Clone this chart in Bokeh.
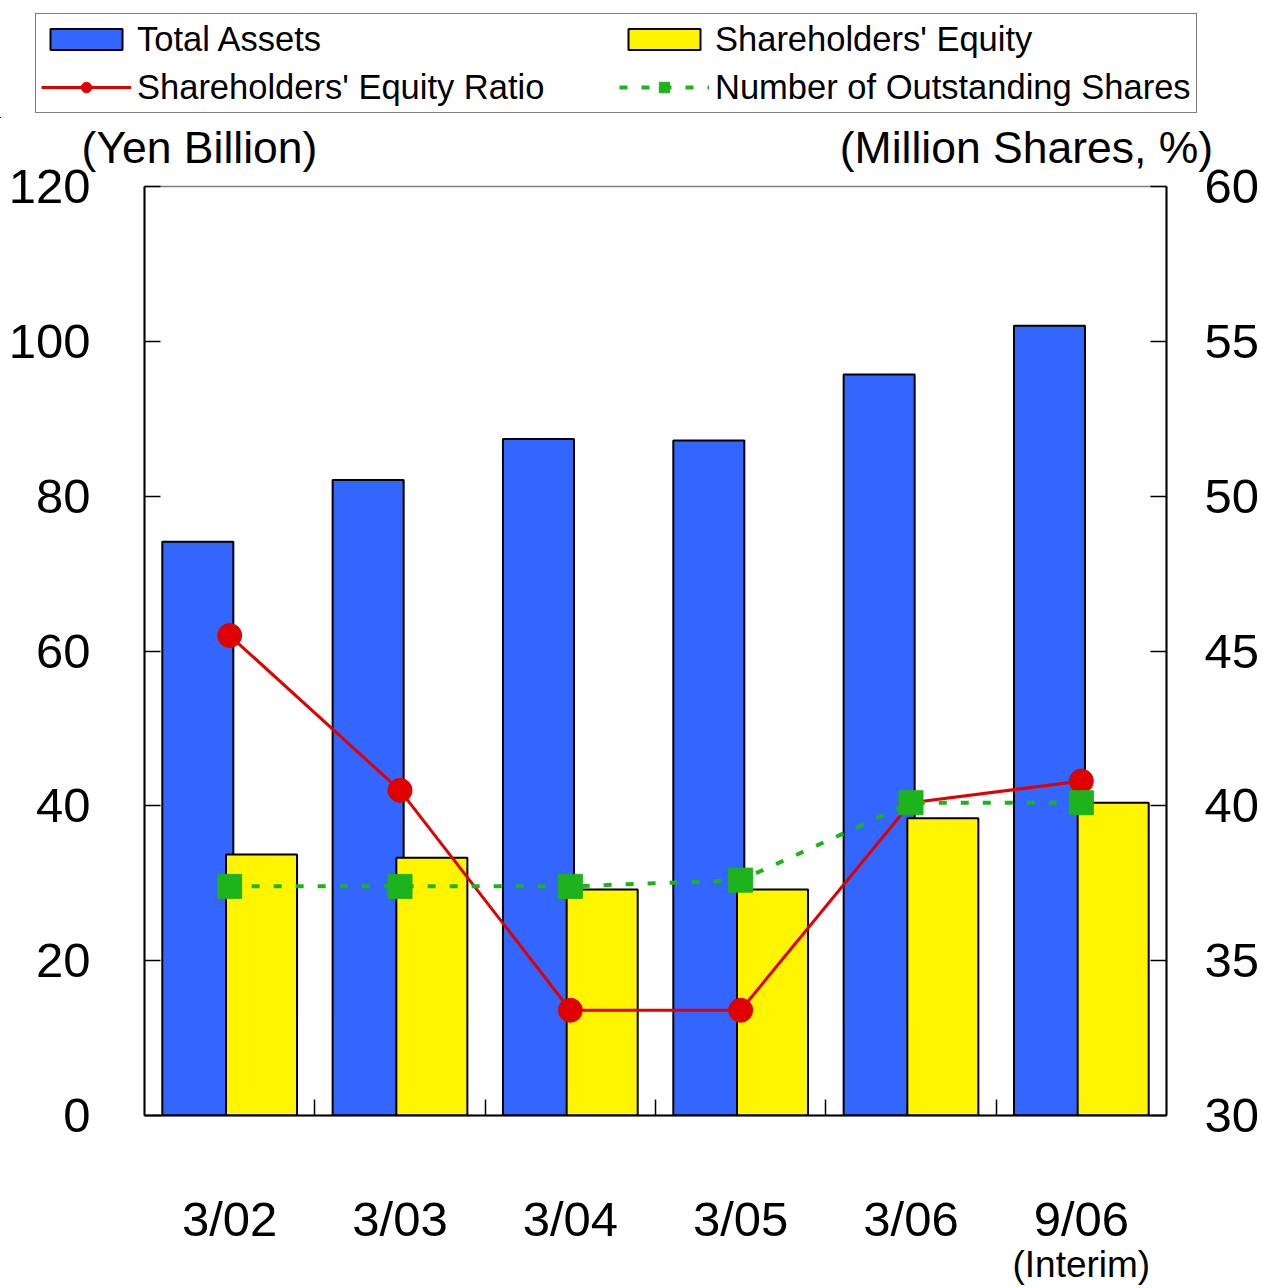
from bokeh.plotting import figure
from bokeh.layouts import column
from bokeh.models import (Range1d, LinearAxis, FixedTicker, Legend, LegendItem,
                          ColumnDataSource)
from bokeh.transform import dodge
from bokeh.embed import file_html
from bokeh.resources import INLINE

# ---- data ----
categories = ["3/02", "3/03", "3/04", "3/05", "3/06", "9/06"]
sub_labels = ["", "", "", "", "", "(Interim)"]
total_assets = [74.1, 82.1, 87.4, 87.2, 95.7, 102.0]
shareholders_equity = [33.7, 33.3, 29.2, 29.2, 38.4, 40.4]
equity_ratio = [45.5, 40.5, 33.4, 33.4, 40.1, 40.8]
outstanding_shares = [37.4, 37.4, 37.4, 37.6, 40.1, 40.1]
left_ticks = [0, 20, 40, 60, 80, 100, 120]
right_ticks = [30, 35, 40, 45, 50, 55, 60]
unit_titles = ["(Yen Billion)", "(Million Shares, %)"]
series_names = ["Total Assets", "Shareholders' Equity",
                "Shareholders' Equity Ratio", "Number of Outstanding Shares"]

FONT = "Liberation Sans"
BLUE = "#3366FF"
YELLOW = "#FFF500"
RED = "#E00000"
GREEN = "#1DB31D"

W = 1262
LEG_H = 118

xpos = [i + 0.5 for i in range(len(categories))]
bounds = [float(i) for i in range(1, len(categories))]
title_pos = [0.323, 5.178]

src = ColumnDataSource(dict(x=xpos, ta=total_assets, se=shareholders_equity,
                            er=equity_ratio, sh=outstanding_shares))

p = figure(width=W, height=1288 - LEG_H, x_range=Range1d(0, len(categories)), y_range=Range1d(0, 120),
           x_axis_location=None, y_axis_location=None,
           output_backend="svg", toolbar_location=None,
           min_border_left=144, min_border_right=W - 1166, min_border_top=186 - LEG_H,
           min_border_bottom=173)
p.frame_align = False
p.extra_y_ranges = {"r": Range1d(30, 60)}
p.xgrid.visible = False
p.ygrid.visible = False
p.outline_line_color = "#808080"
p.outline_line_width = 1.5
p.background_fill_color = "white"
p.border_fill_color = "white"

# y axes
yl = LinearAxis(ticker=FixedTicker(ticks=left_ticks))
yr = LinearAxis(y_range_name="r", ticker=FixedTicker(ticks=right_ticks))
for ax, st in ((yl, 54), (yr, 38)):
    ax.major_tick_in = 16
    ax.major_tick_out = 0
    ax.minor_tick_line_color = None
    ax.axis_line_width = 2
    ax.axis_line_color = "black"
    ax.major_tick_line_width = 1.5
    ax.major_tick_line_color = "black"
    ax.major_label_text_font = FONT
    ax.major_label_text_font_size = "49px"
    ax.major_label_text_color = "black"
    ax.major_label_standoff = st
p.add_layout(yl, "left")
p.add_layout(yr, "right")

# x axes (boundary ticks, category labels, sub labels)
xb = LinearAxis(ticker=FixedTicker(ticks=bounds))
xb.major_tick_in = 16
xb.major_tick_out = 0
xb.minor_tick_line_color = None
xb.axis_line_width = 2
xb.axis_line_color = "black"
xb.major_tick_line_width = 1.5
xb.major_label_text_font_size = "1px"
xb.major_label_text_color = None
xb.major_label_standoff = 0
p.add_layout(xb, "below")


def label_axis(ticks, labels, size, standoff):
    ax = LinearAxis(ticker=FixedTicker(ticks=ticks),
                    major_label_overrides={t: s for t, s in zip(ticks, labels)})
    ax.major_tick_in = 0
    ax.major_tick_out = 0
    ax.minor_tick_line_color = None
    ax.axis_line_color = None
    ax.major_tick_line_color = None
    ax.major_label_text_font = FONT
    ax.major_label_text_font_size = size
    ax.major_label_text_color = "black"
    ax.major_label_standoff = standoff
    return ax


p.add_layout(label_axis(xpos, categories, "49px", 76), "below")
p.add_layout(label_axis([xpos[-1]], [sub_labels[-1]], "37px", -5), "below")

# unit titles on top
p.add_layout(label_axis(title_pos, unit_titles, "44.5px", 15), "above")

# styles shared by chart and legend
bar_ta = dict(fill_color=BLUE, line_color="black", line_width=2)
bar_se = dict(fill_color=YELLOW, line_color="black", line_width=2)
line_er = dict(line_color=RED, line_width=3)
mark_er = dict(marker="circle", size=24, fill_color=RED, line_color=RED)
line_sh = dict(line_color=GREEN, line_width=4, line_dash="8 14")
mark_sh = dict(marker="square", size=24, fill_color=GREEN, line_color=GREEN)


def draw(fig):
    r1 = fig.vbar(x=dodge("x", -0.187), top="ta", width=0.417, source=src, **bar_ta)
    r2 = fig.vbar(x=dodge("x", 0.187), top="se", width=0.417, source=src, **bar_se)
    r3 = fig.line(x="x", y="er", source=src, y_range_name="r", **line_er)
    r4 = fig.scatter(x="x", y="er", source=src, y_range_name="r", **mark_er)
    r5 = fig.line(x="x", y="sh", source=src, y_range_name="r", **line_sh)
    r6 = fig.scatter(x="x", y="sh", source=src, y_range_name="r", **mark_sh)
    return r1, r2, r3, r4, r5, r6


draw(p)

# ---- legend strip: own full-width frame (data kept out of view) so nothing is clipped ----
lf = figure(width=W, height=LEG_H, x_range=Range1d(1000, 1001), y_range=Range1d(1000, 1001),
            x_axis_location=None, y_axis_location=None,
            output_backend="svg", toolbar_location=None,
            min_border_left=0, min_border_right=0, min_border_top=0, min_border_bottom=0)
lf.frame_align = False
lf.extra_y_ranges = {"r": Range1d(1000, 1001)}
lf.xgrid.visible = False
lf.ygrid.visible = False
lf.outline_line_color = None
lf.border_fill_color = "white"
l_ta, l_se, l_erl, l_erm, l_shl, l_shm = draw(lf)

legend = Legend(items=[
    LegendItem(label=series_names[0], renderers=[l_ta]),
    LegendItem(label=series_names[1], renderers=[l_se]),
    LegendItem(label=series_names[2], renderers=[l_erl, l_erm]),
    LegendItem(label=series_names[3], renderers=[l_shl, l_shm]),
], orientation="horizontal", ncols=2, location=(35, LEG_H - 113))
legend.label_text_font = FONT
legend.label_text_font_size = "34.5px"
legend.label_text_color = "black"
legend.glyph_width = 90
legend.glyph_height = 26
legend.label_standoff = 6
legend.label_width = 474
legend.label_height = 40
legend.spacing = 8
legend.padding = 5
legend.margin = 0
legend.border_line_color = "black"
legend.border_line_width = 1.5
legend.background_fill_color = "white"
legend.background_fill_alpha = 1
lf.add_layout(legend, "center")

layout = column(lf, p, spacing=0)
open("out.html", "w").write(file_html(layout, INLINE))
